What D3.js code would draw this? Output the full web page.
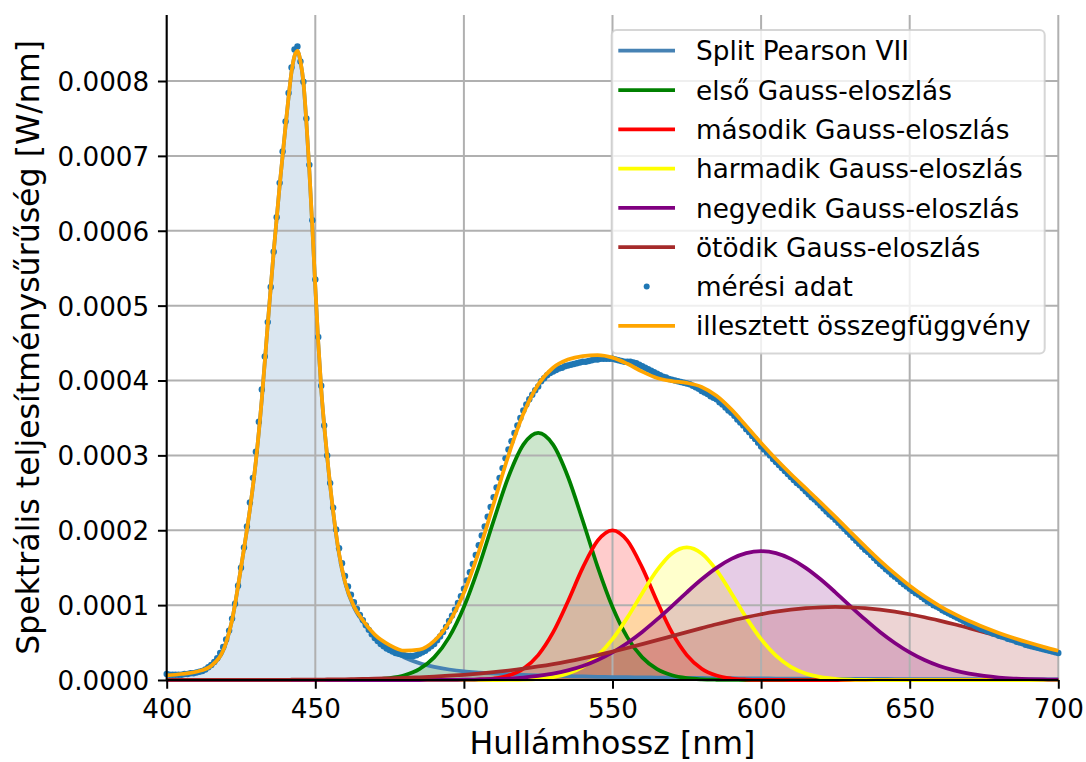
<!DOCTYPE html>
<html>
<head>
<meta charset="utf-8">
<script src="https://cdn.jsdelivr.net/npm/d3@7"></script>
<style>
  body { margin: 0; background: #fff; }
  svg { display: block; }
  text { font-family: "DejaVu Sans", sans-serif; fill: #000; }
</style>
</head>
<body>
<div id="chart"></div>
<script>
// all values in µW/nm, converted with `unit` when drawn
const unit = 1e-6;

// wavelength grid of the fitted curves [nm]
const fitWavelengths = [400,405,410,415,420,422,424,426,428,430,432,434,436,438,440,
  441,442,443,444,445,446,447,448,449,450,451,452,454,456,458,460,463,466,470,475,
  480,485,490,495,500,505,510,515,520,525,530,535,540,545,550,555,560,565,570,575,
  580,585,590,595,600,605,610,615,620,625,630,635,640,645,650,655,660,665,670,675,
  680,685,690,695,700];

const splitPearson = [6,8,11,19,50,80,125,175,228,292,375,475,572,660,740,
  778,812,833,840,826,798,745,680,605,525,450,388,298,225,168,130,97,78,58,42,
  30,22.5,17.5,14,11.5,10,8.8,7.8,7,6.2,5.6,5.1,4.7,4.3,4,3.7,3.5,3.3,3.1,2.9,
  2.7,2.5,2.4,2.2,2.1,2,1.9,1.8,1.7,1.6,1.5,1.45,1.4,1.3,1.25,1.2,1.15,1.1,1.05,1,
  0.95,0.9,0.9,0.85,0.8];

const gauss1 = [0,0,0,0,0,0,0,0,0,0,0,0,0,0,0,
  0,0,0,0,0,0,0,0,0,0,0,0,0.02,0.03,0.05,0.08,0.18,0.37,0.9,2.5,
  6.3,14.5,30.2,56.9,97.4,151.1,212.7,271.5,314.3,330,314.3,271.5,212.7,151.1,97.4,56.9,30.2,14.5,6.3,2.5,
  0.9,0.3,0.1,0,0,0,0,0,0,0,0,0,0,0,0,0,0,0,0,0,
  0,0,0,0,0];

const gauss2 = [0,0,0,0,0,0,0,0,0,0,0,0,0,0,0,
  0,0,0,0,0,0,0,0,0,0,0,0,0,0,0,0,0,0,0,0,
  0,0,0,0,0.15,0.6,2,5.9,15.1,33.3,63.5,104.9,150.1,186.2,200,186.2,150.1,104.9,63.5,33.3,
  15.1,5.9,2,0.6,0.15,0.03,0,0,0,0,0,0,0,0,0,0,0,0,0,0,
  0,0,0,0,0];

const gauss3 = [0,0,0,0,0,0,0,0,0,0,0,0,0,0,0,
  0,0,0,0,0,0,0,0,0,0,0,0,0,0,0,0,0,0,0,0,
  0,0,0,0,0,0,0,0.2,0.6,1.6,3.9,8.7,17.6,32.5,54.5,83.3,115.9,146.6,168.9,177,
  168.9,146.6,115.9,83.3,54.5,32.5,17.6,8.7,3.9,1.6,0.6,0.2,0,0,0,0,0,0,0,0,
  0,0,0,0,0];

const gauss4 = [0,0,0,0,0,0,0,0,0,0,0,0,0,0,0,
  0,0,0,0,0,0,0,0,0,0,0,0,0,0,0,0,0,0,0,0,
  0,0,0.1,0.2,0.4,0.7,1.2,2,3.3,5.4,8.4,12.8,18.7,26.7,36.9,49.5,64.2,80.9,98.8,117.1,
  134.5,149.8,161.7,169.4,172,169.4,161.7,149.8,134.5,117.1,98.8,80.9,64.2,49.5,36.9,26.7,18.7,12.8,8.4,5.4,
  3.3,2,1.2,0.7,0.4];

const gauss5 = [0.02,0.03,0.04,0.06,0.08,0.1,0.11,0.13,0.14,0.16,0.18,0.2,0.23,0.27,0.31,
  0.32,0.34,0.36,0.38,0.42,0.44,0.47,0.5,0.53,0.56,0.6,0.63,0.7,0.78,0.88,1,1.2,1.4,1.7,2.2,
  2.8,3.6,4.5,5.7,7,8.6,10.5,12.7,15.2,18.1,21.3,24.9,28.9,33.2,37.8,42.7,47.9,53.2,58.6,64,
  69.3,74.5,79.3,83.8,87.8,91.2,93.9,95.9,97.1,97.5,97.1,95.9,93.9,91.2,87.8,83.8,79.3,74.5,69.3,64,
  58.6,53.2,47.9,42.7,37.8];

// measured spectrum, one point per nm from 400 nm
const measuredStart = 400;
const measured = [
  8,7,7,7,7,7,8,8,9,9,
  10,11,12,14,17,20,24,29,36,44,
  54,66,82,102,126,150,177,205,237,270,
  305,345,388,432,478,525,572,618,664,706,
  746,784,818,842,846,826,799,750,688,614,
  535,458,393,340,300,263,230,201,176,156,
  139,125,114,104,95,87,80,73,67,61,
  56,52,48,45,42,40,38,36,35,34,
  33,32,32,32,33,35,37,39,42,45,
  48,53,58,64,71,79,86,94,103,112,
  122,133,144,155,167,180,193,205,218,231,
  244,257,270,283,296,308,319,330,340,350,
  360,368,375,381,387,392,399,403,407,410,
  412,414,416,417,419,420,421,422,423,424,
  425,425,426,427,428,428,429,429,429,429,
  429,428,427,426,425,425,425,424,423,421,
  419,417,415,413,411,409,407,405,404,402,
  401,400,399,398,397,396,395,393,391,389,
  386,384,382,379,377,375,371,368,364,360,
  357,353,348,344,340,335,331,326,322,317,
  312,308,304,300,295,291,287,283,279,275,
  271,267,263,260,256,252,248,244,241,237,
  233,229,225,221,218,214,210,206,202,198,
  194,190,186,182,178,174,171,167,163,159,
  155,152,148,145,141,138,135,131,128,125,
  122,119,116,114,111,108,105,103,100,98,
  96,93,91,89,87,85,83,81,79,77,
  75,74,72,70,68,67,65,64,62,61,
  59,58,57,55,54,53,51,50,49,47,
  46,45,44,43,42,41,40,39,38,37,
  36];

const xTicks = [400,450,500,550,600,650,700];
const yTicks = [0,0.0001,0.0002,0.0003,0.0004,0.0005,0.0006,0.0007,0.0008];

const componentLabels = ["Split Pearson VII","első Gauss-eloszlás","második Gauss-eloszlás",
  "harmadik Gauss-eloszlás","negyedik Gauss-eloszlás","ötödik Gauss-eloszlás"];
const measuredLabel = "mérési adat";
const sumLabel = "illesztett összegfüggvény";
const xLabel = "Hullámhossz [nm]";
const yLabel = "Spektrális teljesítménysűrűség [W/nm]";

const componentColors = ["steelblue","green","red","yellow","purple","brown"];
const measuredColor = "#1f77b4";
const sumColor = "orange";

const width = 1086, height = 762;
const plot = {left: 166.7, right: 1058.3, bottom: 680};

const svg = d3.select("#chart").append("svg")
  .attr("width", width)
  .attr("height", height);

const components = [splitPearson, gauss1, gauss2, gauss3, gauss4, gauss5];
const sumCurve = fitWavelengths.map((w, i) => d3.sum(components, c => c[i]));
const measuredPoints = measured.map((v, i) => ({w: measuredStart + i, v: v}));

const x = d3.scaleLinear().domain([400, 700]).range([plot.left, plot.right]);
const yMax = d3.max(measured) * unit * 1.05;
const y = d3.scaleLinear().domain([0, yMax]).range([plot.bottom, plot.bottom - yMax * 748750]);

const area = d3.area()
  .x((d, i) => x(fitWavelengths[i]))
  .y0(y(0))
  .y1(d => y(d * unit))
  .curve(d3.curveMonotoneX);

const line = d3.line()
  .x((d, i) => x(fitWavelengths[i]))
  .y(d => y(d * unit))
  .curve(d3.curveMonotoneX);

// fills
svg.append("g").selectAll("path")
  .data(components)
  .join("path")
  .attr("d", area)
  .attr("fill", (d, i) => componentColors[i])
  .attr("fill-opacity", 0.2);

// grid
const grid = svg.append("g").attr("stroke", "#b0b0b0").attr("stroke-width", 2);
grid.selectAll(".gx").data(xTicks).join("line")
  .attr("x1", d => x(d)).attr("x2", d => x(d))
  .attr("y1", y(0)).attr("y2", y(yMax));
grid.selectAll(".gy").data(yTicks).join("line")
  .attr("x1", plot.left).attr("x2", plot.right)
  .attr("y1", d => y(d)).attr("y2", d => y(d));

// component lines
svg.append("g").selectAll("path")
  .data(components)
  .join("path")
  .attr("d", line)
  .attr("fill", "none")
  .attr("stroke", (d, i) => componentColors[i])
  .attr("stroke-width", 3.75);

// measured points
svg.append("g").selectAll("circle")
  .data(measuredPoints)
  .join("circle")
  .attr("cx", d => x(d.w))
  .attr("cy", d => y(d.v * unit))
  .attr("r", 3.2)
  .attr("fill", measuredColor);

// fitted sum
svg.append("path")
  .attr("d", line(sumCurve))
  .attr("fill", "none")
  .attr("stroke", sumColor)
  .attr("stroke-width", 3.75);

// axes
const xAxis = svg.append("g")
  .attr("transform", `translate(0,${plot.bottom})`)
  .call(d3.axisBottom(x).tickValues(xTicks).tickSize(8.75).tickPadding(8.75).tickFormat(d3.format("d")));
const yAxis = svg.append("g")
  .attr("transform", `translate(${plot.left},0)`)
  .call(d3.axisLeft(y).tickValues(yTicks).tickSize(8.75).tickPadding(8.75).tickFormat(d3.format(".4f")));

[xAxis, yAxis].forEach(a => {
  a.select(".domain").attr("stroke", "#000").attr("stroke-width", 2);
  a.selectAll(".tick line").attr("stroke", "#000").attr("stroke-width", 2);
  a.selectAll(".tick text")
    .style("font-family", "'DejaVu Sans', sans-serif")
    .style("font-size", "26.2px");
});
xAxis.select(".domain").attr("d", `M${plot.left},0H${plot.right}`);
yAxis.select(".domain").attr("d", `M0,${y(yMax)}V${plot.bottom}`);
xAxis.selectAll(".tick text").attr("dy", null).attr("y", 37.8);
yAxis.selectAll(".tick text").attr("dy", "0.36em");

svg.append("text")
  .attr("x", (plot.left + plot.right) / 2)
  .attr("y", 753.5)
  .attr("text-anchor", "middle")
  .style("font-size", "31.6px")
  .text(xLabel);

svg.append("text")
  .attr("transform", `translate(38.5,${(y(0) + y(yMax)) / 2}) rotate(-90)`)
  .attr("text-anchor", "middle")
  .style("font-size", "31.6px")
  .text(yLabel);

// legend
const legend = svg.append("g");
legend.append("rect")
  .attr("x", 611.7).attr("y", 30)
  .attr("width", 433).attr("height", 323.5)
  .attr("rx", 5)
  .attr("fill", "#fff").attr("fill-opacity", 0.8)
  .attr("stroke", "#cccccc").attr("stroke-opacity", 0.8).attr("stroke-width", 2);

const legendItems = componentLabels.map((l, i) => ({label: l, color: componentColors[i], type: "line"}))
  .concat([{label: measuredLabel, color: measuredColor, type: "dot"},
           {label: sumLabel, color: sumColor, type: "line"}]);

const rows = legend.selectAll("g.row")
  .data(legendItems)
  .join("g")
  .attr("transform", (d, i) => `translate(0,${50.7 + i * 39.3})`);

rows.filter(d => d.type === "line").append("line")
  .attr("x1", 618.3).attr("x2", 675)
  .attr("stroke", d => d.color).attr("stroke-width", 3.75);
rows.filter(d => d.type === "dot").append("circle")
  .attr("cx", 646.7).attr("r", 3)
  .attr("fill", d => d.color);
rows.append("text")
  .attr("x", 696).attr("y", 9.6)
  .style("font-size", "26.3px")
  .text(d => d.label);
</script>
</body>
</html>
